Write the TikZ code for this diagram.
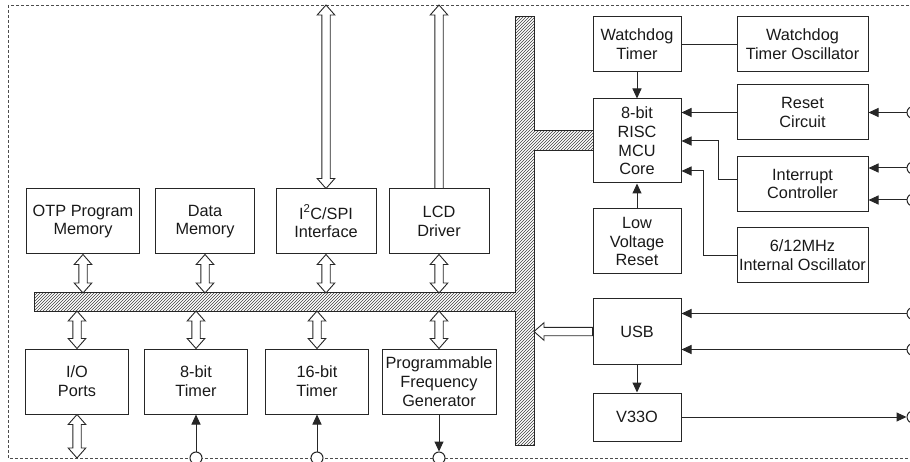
\documentclass[tikz,border=0pt]{standalone}
\usepackage{fontspec}
\setmainfont{Liberation Sans}
\usepackage{tikz}
\usetikzlibrary{calc, patterns, arrows.meta}

\tikzset{
  blk/.style={draw=black!85, line width=1pt, align=center, inner sep=2pt,
    text=black!90, font=\fontsize{16.3}{18.7}\selectfont},
  box/.style 2 args={blk, minimum width=#1, minimum height=#2},
  sig/.style={draw=black!85, line width=1pt},
  term/.style={circle, draw=black!85, line width=1pt, fill=white, inner sep=0pt, minimum size=12pt},
  frame/.style={draw=black!70, line width=0.8pt, dash pattern=on 3pt off 2pt},
  bus/.style={draw=black!85, line width=1pt, pattern=north east lines, pattern color=black!75},
  hollow/.style={draw=black!85, line width=0.9pt, fill=white},
  twohead/.style={hollow, to path={
    let \p1=(\tikztostart), \p2=(\tikztotarget) in
    (\x1,\y1) -- (\x1+8.8pt,\y1-10pt) -- (\x1+4.2pt,\y1-10pt) -- (\x1+4.2pt,\y2+10pt)
    -- (\x1+8.8pt,\y2+10pt) -- (\x1,\y2) -- (\x1-8.8pt,\y2+10pt) -- (\x1-4.2pt,\y2+10pt)
    -- (\x1-4.2pt,\y1-10pt) -- (\x1-8.8pt,\y1-10pt) -- cycle}},
  onehead/.style={hollow, to path={
    let \p1=(\tikztostart), \p2=(\tikztotarget) in
    (\x1,\y1) -- (\x1+8.8pt,\y1-10pt) -- (\x1+4.2pt,\y1-10pt) -- (\x1+4.2pt,\y2)
    -- (\x1-4.2pt,\y2) -- (\x1-4.2pt,\y1-10pt) -- (\x1-8.8pt,\y1-10pt) -- cycle}},
  lefthead/.style={hollow, to path={
    let \p1=(\tikztostart), \p2=(\tikztotarget) in
    (\x1,\y1) -- (\x1+10pt,\y1+8.8pt) -- (\x1+10pt,\y1+4.2pt) -- (\x2,\y1+4.2pt)
    -- (\x2,\y1-4.2pt) -- (\x1+10pt,\y1-4.2pt) -- (\x1+10pt,\y1-8.8pt) -- cycle}},
  >={Triangle[length=10pt,width=9pt]}
}

\begin{document}
\begin{tikzpicture}[x=1pt, y=-1pt]
\useasboundingbox (0,0) rectangle (910,462);
\draw[frame] (8,5) rectangle (913,458);
\coordinate (frame n) at (0,5);
\coordinate (frame s) at (0,458);
% data bus
\draw[bus] (34,293) -- (515,293) -- (515,17) -- (534,17) -- (534,131) -- (593,131)
  -- (593,151) -- (534,151) -- (534,445) -- (515,445) -- (515,311) -- (34,311) -- cycle;
\coordinate (bus n) at (0,293);
\coordinate (bus s) at (0,311);
\coordinate (bus e) at (534,0);
% left blocks
\node[box={113}{65}] (otp)  at (83,221.5)  {OTP Program\\Memory};
\node[box={99}{65}]  (data) at (205,221.5) {Data\\Memory};
\node[box={100}{65}] (i2c)  at (326,221.5) {I\textsuperscript{2}C/SPI\\Interface};
\node[box={100}{65}] (lcd)  at (439,221.5) {LCD\\Driver};
\node[box={103}{65}] (io)   at (77,381.5)  {I/O\\Ports};
\node[box={103}{65}] (t8)   at (196,381.5) {8-bit\\Timer};
\node[box={103}{65}] (t16)  at (317,381.5) {16-bit\\Timer};
\node[box={114}{65}] (pfg)  at (439,381.5) {Programmable\\Frequency\\Generator};
% right blocks
\node[box={88}{55}]  (wdt)   at (637,44.5)   {Watchdog\\Timer};
\node[box={131}{55}] (wdto)  at (802.5,44.5) {Watchdog\\Timer Oscillator};
\node[box={88}{84}]  (core)  at (637,141)    {8-bit\\RISC\\MCU\\Core};
\node[box={131}{55}] (reset) at (802.5,112.5) {Reset\\Circuit};
\node[box={131}{55}] (intc)  at (802.5,184)  {Interrupt\\Controller};
\node[box={88}{65}]  (lvr)   at (637,241.5)  {Low\\Voltage\\Reset};
\node[box={131}{55}] (osc)   at (802.5,255.5) {6/12MHz\\Internal Oscillator};
\node[box={88}{65}]  (usb)   at (637,331.5)  {USB};
\node[box={88}{48}]  (v33)   at (637,417)    {V33O};
% bus arrows
\draw[twohead] (otp.south)  to (otp.south |- bus n);
\draw[twohead] (data.south) to (data.south |- bus n);
\draw[twohead] (i2c.south)  to (i2c.south |- bus n);
\draw[twohead] (lcd.south)  to (lcd.south |- bus n);
\draw[twohead] (io.north |- bus s)  to (io.north);
\draw[twohead] (t8.north |- bus s)  to (t8.north);
\draw[twohead] (t16.north |- bus s) to (t16.north);
\draw[twohead] (pfg.north |- bus s) to (pfg.north);
\draw[twohead] (io.south) to (io.south |- frame s);
\draw[twohead] (i2c.north |- frame n) to (i2c.north);
\draw[onehead] (lcd.north |- frame n) to (lcd.north);
\draw[lefthead] (usb.west -| bus e) to (usb.west);
% pins
\node[term] (rst in)  at (913,112.5) {};
\node[term] (int in1) at (913,168) {};
\node[term] (int in2) at (913,200) {};
\node[term] (usb dp)  at (913,313.5) {};
\node[term] (usb dm)  at (913,349.5) {};
\node[term] (v33 out) at (913,417) {};
\node[term] (t8 in)   at (196,458) {};
\node[term] (t16 in)  at (317,458) {};
\node[term] (pfg out) at (439,458) {};
% signals
\draw[sig] (wdt) -- (wdto);
\draw[sig, ->] (wdt) -- (core);
\draw[sig, ->] (lvr) -- (core);
\draw[sig, ->] (reset.west) -- (reset.west -| core.east);
\draw[sig, ->] (intc.west |- 0,180) -| (718,141) -- (core.east |- 0,141);
\draw[sig, ->] (osc.west) -| (703,171) -- (core.east |- 0,171);
\draw[sig, ->] (usb) -- (v33);
\draw[sig, ->] (rst in) -- (reset);
\draw[sig, ->] (int in1) -- (int in1 -| intc.east);
\draw[sig, ->] (int in2) -- (int in2 -| intc.east);
\draw[sig, ->] (usb dp) -- (usb dp -| usb.east);
\draw[sig, ->] (usb dm) -- (usb dm -| usb.east);
\draw[sig, ->] (v33) -- (v33 out);
\draw[sig, ->] (t8 in) -- (t8);
\draw[sig, ->] (t16 in) -- (t16);
\draw[sig, ->] (pfg) -- (pfg out);
\end{tikzpicture}
\end{document}
